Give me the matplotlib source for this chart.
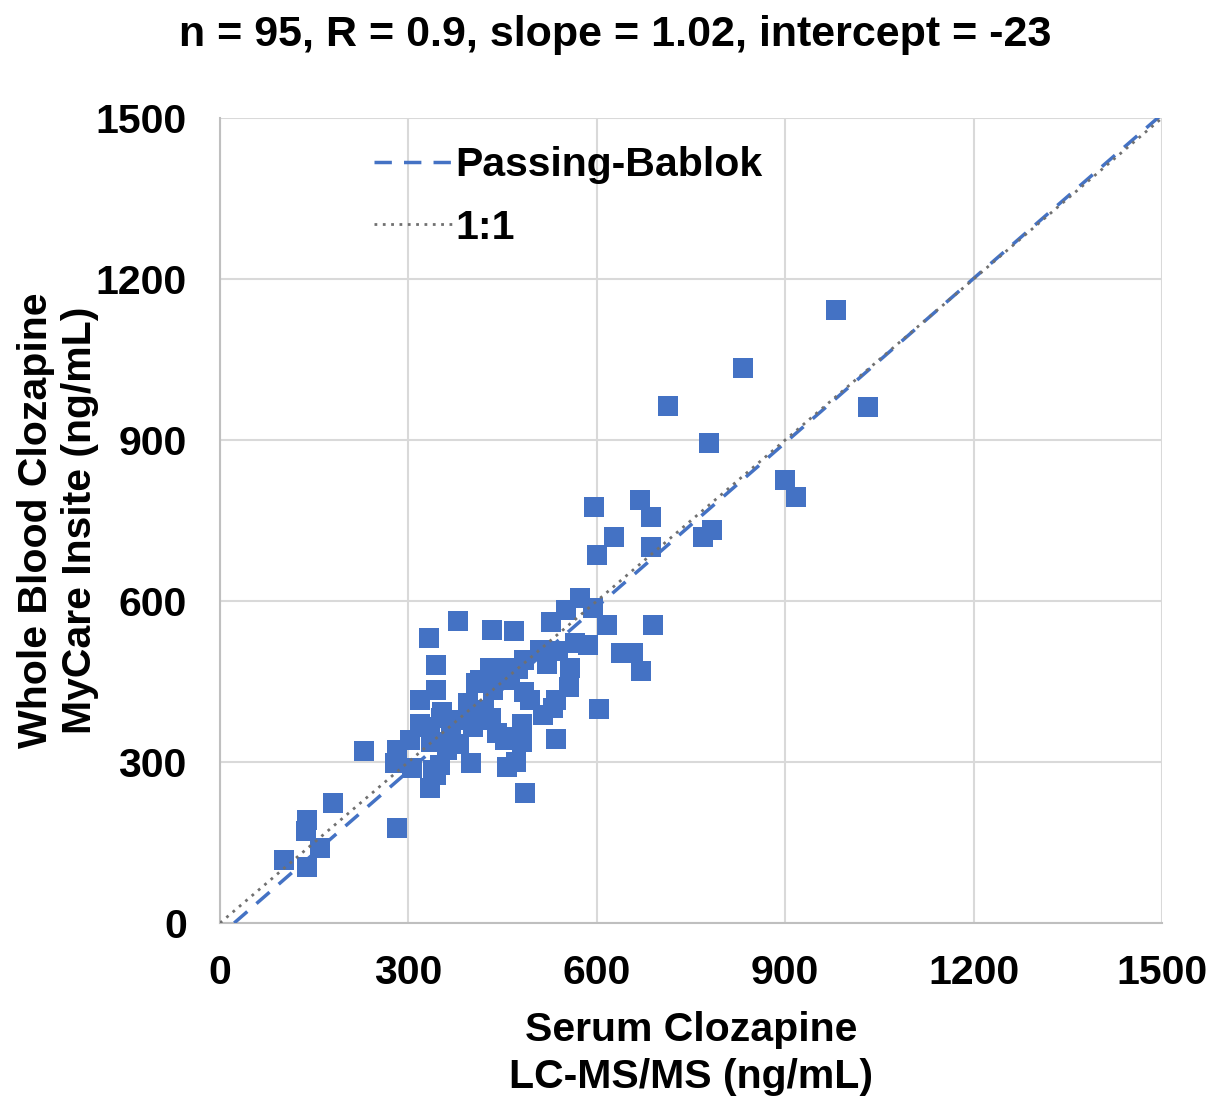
import matplotlib.pyplot as plt
import numpy as np

plt.rcParams["font.family"] = ["Liberation Sans", "DejaVu Sans"]
plt.rcParams["font.weight"] = "bold"

# Serum (LC-MS/MS) vs whole blood (MyCare Insite), ng/mL
serum = [102, 139, 139, 137, 159, 180, 229, 282, 279, 282,
         302, 306, 318, 318, 333, 334, 336, 339, 344, 344,
         344, 352, 354, 361, 368, 376, 379, 381, 390, 395,
         400, 408, 414, 420, 427, 430, 432, 433, 435, 441,
         446, 452, 454, 457, 462, 465, 468, 471, 475, 481,
         481, 484, 484, 486, 494, 510, 514, 521, 527, 530,
         535, 535, 538, 551, 556, 557, 565, 573, 586, 594,
         596, 600, 603, 616, 627, 639, 658, 669, 671, 686,
         686, 689, 713, 769, 779, 783, 833, 900, 917, 981,
         1032, 334, 350, 403, 454]
blood = [117, 104, 192, 171, 140, 224, 320, 177, 298, 322,
         341, 289, 415, 371, 531, 252, 337, 285, 481, 434,
         276, 382, 393, 322, 350, 378, 563, 334, 378, 410,
         298, 447, 453, 397, 378, 475, 382, 546, 434, 354,
         453, 475, 341, 291, 453, 345, 544, 300, 473, 337,
         371, 430, 490, 242, 415, 508, 388, 483, 561, 401,
         343, 415, 507, 583, 440, 475, 522, 606, 518, 587,
         775, 686, 399, 555, 719, 503, 503, 788, 470, 756,
         701, 555, 963, 719, 894, 732, 1034, 825, 794, 1142,
         961, 365, 294, 365, 347]

slope = 1.02
intercept = -23
title = "n = 95, R = 0.9, slope = 1.02, intercept = -23"

fs = 29.5
fig = plt.figure(figsize=(12.11, 10.98), dpi=100)
ax = fig.add_axes([0.1817, 0.1594, 0.7778, 0.7331])

ax.scatter(serum, blood, marker="s", s=200, color="#4472C4", zorder=3, linewidths=0)

x_fit = np.array([-intercept / slope, 1500])
ax.plot(x_fit, slope * x_fit + intercept, color="#4472C4", linestyle=(0, (5, 3.5)),
        linewidth=2.5, label="Passing-Bablok", zorder=4)
ax.plot([0, 1500], [0, 1500], color="#707070", linestyle=(0, (1, 2)),
        linewidth=2, label="1:1", zorder=4)

ax.set_xlim(0, 1500)
ax.set_ylim(0, 1500)
ax.set_xticks(np.arange(0, 1501, 300))
ax.set_yticks(np.arange(0, 1501, 300))
ax.tick_params(axis="x", labelsize=fs, length=0, pad=22)
ax.tick_params(axis="y", labelsize=fs, length=0, pad=24)
ax.grid(True, color="#D9D9D9", linewidth=1.5)
ax.set_axisbelow(True)
for s in ["top", "right"]:
    ax.spines[s].set_visible(False)
for s in ["left", "bottom"]:
    ax.spines[s].set_color("#BFBFBF")
    ax.spines[s].set_linewidth(1.5)

ax.set_xlabel("Serum Clozapine\nLC-MS/MS (ng/mL)", fontsize=fs, fontweight="bold",
              labelpad=14, linespacing=1.3)
ax.set_ylabel("Whole Blood Clozapine\nMyCare Insite (ng/mL)", fontsize=fs, fontweight="bold",
              linespacing=1.2)
ax.yaxis.set_label_coords(-0.128, 0.5)

ax.legend(loc="upper left", bbox_to_anchor=(0.124, 1.011), fontsize=fs, frameon=False,
          handlelength=1.9, handletextpad=0.1, labelspacing=0.6)

fig.text(0.508, 0.968, title, ha="center", va="center", fontsize=31, fontweight="bold")

plt.savefig("out.png", dpi=100)
